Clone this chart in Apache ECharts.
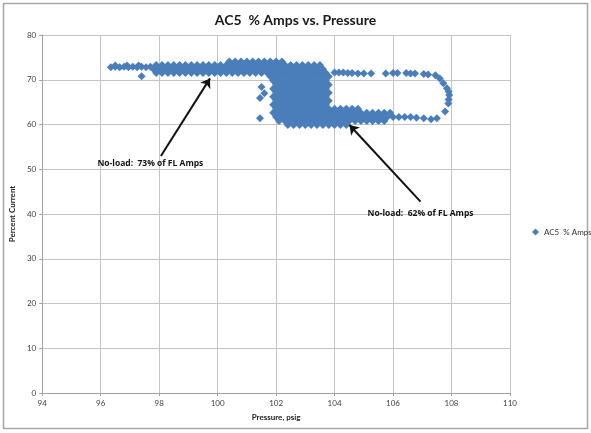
<!DOCTYPE html>
<html>
<head>
<meta charset="utf-8">
<script src="https://cdn.jsdelivr.net/npm/echarts@6/dist/echarts.min.js"></script>
<style>
html,body{margin:0;padding:0;background:#fff;}
#chart{width:591px;height:433px;}
</style>
</head>
<body>
<div id="chart"></div>
<script>
// ---- Data ----
const seriesName = 'AC5  % Amps';
const xTicks = [94, 96, 98, 100, 102, 104, 106, 108, 110];
const yTicks = [0, 10, 20, 30, 40, 50, 60, 70, 80];

// dense cloud, listed as rows of percent-current with their pressure readings
const rowCurrent = [74.1, 73.3, 72.4, 71.5, 70.7, 69.8, 68.9, 68.0, 67.1, 66.2, 65.3, 64.4, 63.5, 62.6, 61.7, 60.8, 59.9];
const rowPressure = [
  [100.4,100.6,100.8,101.0,101.2,101.4,101.6,101.8,102.0,102.2],
  [97.9,98.1,98.3,98.5,98.7,98.9,99.1,99.3,99.5,99.7,99.9,100.1,100.3,100.5,100.7,100.9,101.1,101.3,101.5,101.7,101.9,102.1,102.3,102.5,102.7,102.9,103.1,103.3,103.5],
  [97.8,98.0,98.2,98.4,98.6,98.8,99.0,99.2,99.4,99.6,99.8,100.0,100.2,100.4,100.6,100.8,101.0,101.2,101.4,101.6,101.8,102.0,102.2,102.4,102.6,102.8,103.0,103.2,103.4,103.6],
  [97.9,98.1,98.3,98.5,98.7,98.9,99.1,99.3,99.5,99.7,99.9,100.1,100.3,100.5,100.7,100.9,101.1,101.3,101.5,101.7,101.9,102.1,102.3,102.5,102.7,102.9,103.1,103.3,103.5,103.7],
  [101.8,102.0,102.2,102.4,102.6,102.8,103.0,103.2,103.4,103.6,103.8],
  [101.9,102.1,102.3,102.5,102.7,102.9,103.1,103.3,103.5,103.7],
  [102.0,102.2,102.4,102.6,102.8,103.0,103.2,103.4,103.6,103.8],
  [101.9,102.1,102.3,102.5,102.7,102.9,103.1,103.3,103.5,103.7],
  [102.0,102.2,102.4,102.6,102.8,103.0,103.2,103.4,103.6,103.8],
  [101.9,102.1,102.3,102.5,102.7,102.9,103.1,103.3,103.5,103.7],
  [102.0,102.2,102.4,102.6,102.8,103.0,103.2,103.4,103.6,103.8],
  [101.9,102.1,102.3,102.5,102.7,102.9,103.1,103.3,103.5,103.7],
  [102.0,102.2,102.4,102.6,102.8,103.0,103.2,103.4,103.6,103.8,104.0,104.2,104.4,104.6,104.8],
  [101.9,102.1,102.3,102.5,102.7,102.9,103.1,103.3,103.5,103.7,103.9,104.1,104.3,104.5,104.7,104.9,105.1,105.3,105.5,105.7,105.9],
  [102.0,102.2,102.4,102.6,102.8,103.0,103.2,103.4,103.6,103.8,104.0,104.2,104.4,104.6,104.8,105.0,105.2,105.4,105.6,105.8,106.0,106.2,106.4,106.6],
  [102.1,102.3,102.5,102.7,102.9,103.1,103.3,103.5,103.7,103.9,104.1,104.3,104.5,104.7,104.9,105.1,105.3,105.5,105.7],
  [102.4,102.6,102.8,103.0,103.2,103.4,103.6,103.8,104.0,104.2,104.4]
];

// sparse readings outside the cloud
const loosePressure = [96.35,96.5,96.65,96.8,96.95,97.1,97.25,97.4,97.55,97.7,96.5,96.9,97.3,97.4,
  101.5,101.6,101.45,101.45,
  104.0,104.15,104.3,104.45,104.6,104.8,105.0,105.25,105.75,106.0,106.15,106.45,106.6,106.75,107.05,107.2,
  107.45,107.6,107.72,107.84,107.9,107.92,107.9,107.89,107.78,
  106.8,107.05,107.3,107.5];
const looseCurrent = [72.8,72.9,72.8,72.9,72.8,72.9,72.8,72.9,72.8,72.9,73.2,73.2,73.2,70.8,
  68.4,67.0,65.9,61.4,
  71.6,71.6,71.6,71.5,71.5,71.4,71.4,71.4,71.4,71.5,71.5,71.5,71.4,71.4,71.3,71.2,
  71.0,70.3,69.2,68.1,67.4,66.6,65.6,64.7,62.9,
  61.5,61.4,61.2,61.4];

// annotations: text position and arrow (from -> to) in data units
const noteText = ['No-load:  73% of FL Amps', 'No-load:  62% of FL Amps'];
const notePos = [[97.7, 51.2], [106.94, 40.0]];
const arrowFrom = [[98.06, 52.96], [106.94, 42.75]];
const arrowTo = [[99.74, 70.3], [104.51, 59.89]];

// ---- Build ----
const points = [];
rowCurrent.forEach((c, i) => rowPressure[i].forEach(p => points.push([p, c])));
loosePressure.forEach((p, i) => points.push([p, looseCurrent[i]]));

const FONT = 'Lato, "Open Sans", sans-serif';
const chart = echarts.init(document.getElementById('chart'), null, {renderer: 'canvas'});
chart.setOption({
  animation: false,
  backgroundColor: '#fff',
  title: {
    text: 'AC5  % Amps vs. Pressure',
    left: 'center', top: 8,
    textStyle: {fontFamily: FONT, fontSize: 14, fontWeight: 'bold', color: '#1a1a1a'}
  },
  graphic: [{
    type: 'rect', silent: true, z: -1,
    shape: {x: 3.5, y: 3.5, width: 584, height: 425},
    style: {fill: 'none', stroke: '#a6a6a6', lineWidth: 1.5}
  }],
  legend: {
    data: [{name: seriesName, icon: 'diamond'}],
    left: 527, top: 223, itemWidth: 7, itemHeight: 7, itemGap: 4,
    textStyle: {fontFamily: FONT, fontSize: 8, color: '#333'}
  },
  grid: {left: 36, right: 81, top: 35, bottom: 40},
  xAxis: {
    type: 'value', min: xTicks[0], max: xTicks[xTicks.length - 1], interval: 2,
    name: 'Pressure, psig', nameLocation: 'middle', nameGap: 20,
    nameTextStyle: {fontFamily: FONT, fontSize: 8, fontWeight: 'bold', color: '#222'},
    axisLine: {show: true, lineStyle: {color: '#a0a0a0', width: 1}},
    axisTick: {show: true, length: 3, lineStyle: {color: '#a0a0a0'}},
    axisLabel: {fontFamily: FONT, fontSize: 8, color: '#404040', margin: 6},
    splitLine: {show: true, lineStyle: {color: '#c4c4c4', width: 1}}
  },
  yAxis: {
    type: 'value', min: yTicks[0], max: yTicks[yTicks.length - 1], interval: 10,
    name: 'Percent Current', nameLocation: 'middle', nameGap: 19, nameRotate: 90,
    nameTextStyle: {fontFamily: FONT, fontSize: 8, fontWeight: 'bold', color: '#222'},
    axisLine: {show: true, lineStyle: {color: '#a0a0a0', width: 1}},
    axisTick: {show: true, length: 3, lineStyle: {color: '#a0a0a0'}},
    axisLabel: {fontFamily: FONT, fontSize: 8, color: '#404040', margin: 6},
    splitLine: {show: true, lineStyle: {color: '#c4c4c4', width: 1}}
  },
  series: [{
    name: seriesName, type: 'scatter', symbol: 'diamond', symbolSize: 8,
    itemStyle: {color: '#4a7ebb', opacity: 1}, data: points, z: 2
  }, {
    name: 'notes', type: 'scatter', symbolSize: 0, z: 5, silent: true,
    itemStyle: {opacity: 1},
    data: notePos.map((p, i) => [p[0], p[1], noteText[i]]),
    label: {
      show: true, position: 'inside', formatter: p => p.data[2],
      fontFamily: '"Open Sans", sans-serif', fontSize: 8.5, fontWeight: 'bold', color: '#111'
    },
    markLine: {
      silent: true, symbol: ['none', 'arrow'], symbolSize: 9, z: 6,
      lineStyle: {color: '#111', width: 2, type: 'solid', opacity: 1},
      itemStyle: {color: '#111'},
      label: {show: false}, emphasis: {disabled: true},
      data: arrowFrom.map((f, i) => [{coord: f}, {coord: arrowTo[i]}])
    }
  }]
});
</script>
</body>
</html>
